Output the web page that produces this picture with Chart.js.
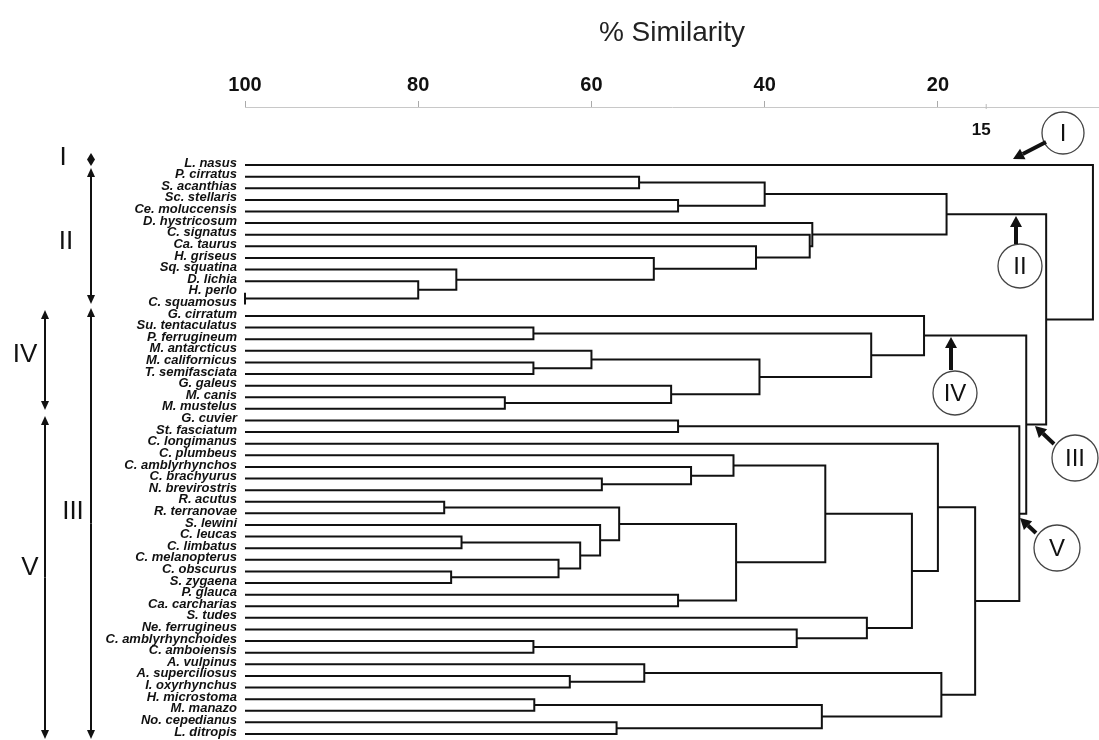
<!DOCTYPE html>
<html>
<head>
<meta charset="utf-8">
<script src="https://cdn.jsdelivr.net/npm/chart.js@4.4.1/dist/chart.umd.min.js"></script>
<style>
    html, body { margin: 0; padding: 0; background: #fff; }
    canvas { display: block; }
</style>
</head>
<body>
<canvas id="dendro" width="1099" height="740"></canvas>
<script>
// ========== DATA ==========
const leaves = [
    "L. nasus", "P. cirratus", "S. acanthias", "Sc. stellaris", "Ce. moluccensis",
    "D. hystricosum", "C. signatus", "Ca. taurus", "H. griseus", "Sq. squatina",
    "D. lichia", "H. perlo", "C. squamosus", "G. cirratum", "Su. tentaculatus",
    "P. ferrugineum", "M. antarcticus", "M. californicus", "T. semifasciata", "G. galeus",
    "M. canis", "M. mustelus", "G. cuvier", "St. fasciatum", "C. longimanus",
    "C. plumbeus", "C. amblyrhynchos", "C. brachyurus", "N. brevirostris", "R. acutus",
    "R. terranovae", "S. lewini", "C. leucas", "C. limbatus", "C. melanopterus",
    "C. obscurus", "S. zygaena", "P. glauca", "Ca. carcharias", "S. tudes",
    "Ne. ferrugineus", "C. amblyrhynchoides", "C. amboiensis", "A. vulpinus", "A. superciliosus",
    "I. oxyrhynchus", "H. microstoma", "M. manazo", "No. cepedianus", "L. ditropis"
];

// linkage rows: [child a, child b, % similarity]
// ids below 50 are leaves, id 50 + k is the node built by row k
const merges = [
    [11, 12, 100], [10, 50, 80.0], [9, 51, 75.6], [8, 52, 52.8], [7, 53, 41.0],
    [6, 54, 34.8], [5, 55, 34.5], [1, 2, 54.5], [3, 4, 50.0], [57, 58, 40.0],
    [59, 56, 19.0],
    [14, 15, 66.7], [17, 18, 66.7], [16, 62, 60.0], [20, 21, 70.0], [19, 64, 50.8],
    [63, 65, 40.6], [61, 66, 27.7], [13, 67, 21.6],
    [22, 23, 50.0],
    [27, 28, 58.8], [26, 70, 48.5], [25, 71, 43.6],
    [29, 30, 77.0], [32, 33, 75.0], [35, 36, 76.2], [34, 75, 63.8], [74, 76, 61.3],
    [31, 77, 59.0], [73, 78, 56.8], [37, 38, 50.0], [79, 80, 43.3], [72, 81, 33.0],
    [41, 42, 66.7], [40, 83, 36.3], [39, 84, 28.2], [82, 85, 23.0], [24, 86, 20.0],
    [44, 45, 62.5], [43, 88, 53.9], [46, 47, 66.6], [48, 49, 57.1], [90, 91, 33.4],
    [89, 92, 19.6], [87, 93, 15.7], [69, 94, 10.6], [68, 95, 9.8],
    [60, 96, 7.5], [0, 97, 2.1]
];

const axisTicks = [100, 80, 60, 40, 20];
const extraTick = 15;

// ========== BUILD BRANCHES ==========
const nodeRow = leaves.map((_, i) => i);
const nodeSim = leaves.map(() => 100);
const branches = [];
merges.forEach(([a, b, sim]) => {
    branches.push([
        { x: nodeSim[a], y: nodeRow[a] },
        { x: sim, y: nodeRow[a] },
        { x: sim, y: nodeRow[b] },
        { x: nodeSim[b], y: nodeRow[b] }
    ]);
    nodeRow.push((nodeRow[a] + nodeRow[b]) / 2);
    nodeSim.push(sim);
});

const datasets = branches.map(points => ({
    data: points,
    showLine: true,
    borderColor: "#111",
    borderWidth: 2,
    pointRadius: 0,
    tension: 0,
    clip: false
}));

// ========== ANNOTATIONS ==========
function arrow(ctx, x1, y1, x2, y2, shaft, headLen, headW) {
    const ang = Math.atan2(y2 - y1, x2 - x1);
    const bx = x2 - Math.cos(ang) * headLen;
    const by = y2 - Math.sin(ang) * headLen;
    ctx.lineWidth = shaft;
    ctx.beginPath();
    ctx.moveTo(x1, y1);
    ctx.lineTo(bx, by);
    ctx.stroke();
    ctx.beginPath();
    ctx.moveTo(x2, y2);
    ctx.lineTo(bx + Math.sin(ang) * headW / 2, by - Math.cos(ang) * headW / 2);
    ctx.lineTo(bx - Math.sin(ang) * headW / 2, by + Math.cos(ang) * headW / 2);
    ctx.closePath();
    ctx.fill();
}

const annotations = {
    id: "annotations",
    afterDraw(chart) {
        const ctx = chart.ctx;
        const xs = chart.scales.x;
        ctx.save();
        ctx.strokeStyle = "#111";
        ctx.fillStyle = "#111";

        // extra tick "15" under the axis
        const x15 = xs.getPixelForValue(extraTick);
        ctx.lineWidth = 1;
        ctx.strokeStyle = "#bbb";
        ctx.beginPath();
        ctx.moveTo(x15 + 5, 104);
        ctx.lineTo(x15 + 5, 109);
        ctx.stroke();
        ctx.strokeStyle = "#111";
        ctx.font = "bold 17px 'Liberation Sans', Arial";
        ctx.textAlign = "center";
        ctx.textBaseline = "middle";
        ctx.fillText(String(extraTick), x15, 130);

        // group ranges on the left
        ctx.font = "26px 'Liberation Sans', Arial";
        ctx.fillText("I", 63, 158);
        ctx.fillText("II", 66, 242);
        ctx.fillText("III", 73, 512);
        ctx.fillText("IV", 25, 355);
        ctx.fillText("V", 30, 568);

        ctx.beginPath();
        ctx.moveTo(91, 153);
        ctx.lineTo(95, 159.5);
        ctx.lineTo(91, 166);
        ctx.lineTo(87, 159.5);
        ctx.closePath();
        ctx.fill();

        const ranges = [[91, 168, 304], [91, 308, 739], [45, 310, 410], [45, 416, 739]];
        ranges.forEach(([x, y1, y2]) => {
            const mid = (y1 + y2) / 2;
            arrow(ctx, x, mid, x, y1, 2, 9, 8);
            arrow(ctx, x, mid, x, y2, 2, 9, 8);
        });

        // circled group markers on the right
        const marks = [
            ["I", 1063, 133, 21, 1046, 142, 1013, 159],
            ["II", 1020, 266, 22, 1016, 244, 1016, 216],
            ["IV", 955, 393, 22, 951, 370, 951, 337],
            ["III", 1075, 458, 23, 1054, 444, 1035, 426],
            ["V", 1057, 548, 23, 1036, 533, 1020, 518]
        ];
        marks.forEach(([txt, cx, cy, r, ax, ay, tx, ty]) => {
            ctx.lineWidth = 1.3;
            ctx.strokeStyle = "#444";
            ctx.beginPath();
            ctx.arc(cx, cy, r, 0, Math.PI * 2);
            ctx.stroke();
            ctx.fillStyle = "#111";
            ctx.font = "24px 'Liberation Sans', Arial";
            ctx.fillText(txt, cx, cy + 1);
            ctx.strokeStyle = "#111";
            arrow(ctx, ax, ay, tx, ty, 4, 11, 12);
        });
        ctx.restore();
    }
};

// ========== CHART ==========
new Chart(document.getElementById("dendro"), {
    type: "scatter",
    data: { datasets: datasets },
    options: {
        responsive: false,
        animation: false,
        layout: { padding: 0 },
        plugins: {
            legend: { display: false },
            tooltip: { enabled: false }
        },
        scales: {
            x: {
                type: "linear",
                position: "top",
                reverse: true,
                min: 1.4,
                max: 100,
                afterBuildTicks: scale => {
                    scale.ticks = axisTicks.map(v => ({ value: v }));
                },
                afterFit: scale => {
                    scale.height = 107;
                    scale.paddingLeft = 0;
                    scale.paddingRight = 0;
                },
                border: { color: "#c8c8c8", width: 1 },
                grid: { drawOnChartArea: false, tickLength: 6, color: "#aaa" },
                ticks: {
                    color: "#111",
                    padding: 4,
                    maxRotation: 0,
                    font: { family: "'Liberation Sans', Arial", size: 20, weight: "bold" }
                },
                title: {
                    display: true,
                    text: "% Similarity",
                    color: "#222",
                    padding: { top: 16, bottom: 10 },
                    font: { family: "'Liberation Sans', Arial", size: 28 }
                }
            },
            y: {
                type: "linear",
                reverse: true,
                min: -5,
                max: 49.52,
                afterBuildTicks: scale => {
                    scale.ticks = leaves.map((_, i) => ({ value: i }));
                },
                afterFit: scale => {
                    scale.width = 245;
                    scale.paddingTop = 0;
                    scale.paddingBottom = 0;
                },
                border: { display: false },
                grid: { display: false, drawTicks: false, tickLength: 0 },
                ticks: {
                    autoSkip: false,
                    color: "#111",
                    padding: 8,
                    labelOffset: -2,
                    callback: value => leaves[value],
                    font: { family: "'Liberation Sans', Arial", size: 13, weight: "bold", style: "italic" }
                }
            }
        }
    },
    plugins: [annotations]
});
</script>
</body>
</html>
